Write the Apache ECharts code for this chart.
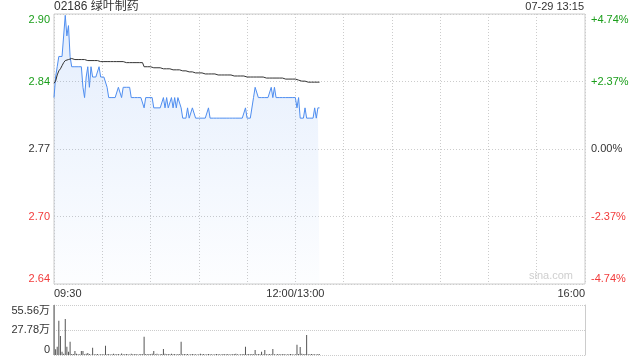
<!DOCTYPE html>
<html>
<head>
<meta charset="utf-8">
<script src="https://cdn.jsdelivr.net/npm/echarts@6/dist/echarts.min.js"></script>
<style>
html,body{margin:0;padding:0;background:#fff;}
#c{width:640px;height:360px;}
</style>
</head>
<body>
<div id="c"></div>
<script>
const title = '02186 绿叶制药';
const stamp = '07-29 13:15';
const prevClose = 2.77;
const pctRange = 4.74;
const priceTickLabels = ['2.64', '2.70', '2.77', '2.84', '2.90'];
const pctTickLabels = ['-4.74%', '-2.37%', '0.00%', '+2.37%', '+4.74%'];
const timeTickLabels = {0: '09:30', 150: '12:00/13:00', 330: '16:00'};
const volTickLabels = ['0', '27.78万', '55.56万'];
const volMax = 55.56;
const totalMinutes = 330;

// price per minute from 09:30 (index 0) to 13:15 (index 165)
const price = [
  2.82, 2.84, 2.85, 2.86, 2.86, 2.86, 2.86, 2.90, 2.88, 2.89,
  2.86, 2.85, 2.85, 2.85, 2.85, 2.85, 2.85, 2.85, 2.83, 2.82,
  2.84, 2.85, 2.83, 2.85, 2.84, 2.84, 2.84, 2.84, 2.85, 2.84,
  2.84, 2.84, 2.84, 2.83, 2.82, 2.82, 2.82, 2.82, 2.82, 2.82,
  2.83, 2.83, 2.82, 2.83, 2.83, 2.83, 2.83, 2.83, 2.82, 2.82,
  2.82, 2.82, 2.82, 2.82, 2.82, 2.82, 2.81, 2.82, 2.82, 2.82,
  2.82, 2.82, 2.81, 2.81, 2.81, 2.81, 2.81, 2.81, 2.82, 2.81,
  2.82, 2.81, 2.81, 2.82, 2.81, 2.82, 2.81, 2.82, 2.82, 2.81,
  2.80, 2.80, 2.80, 2.81, 2.80, 2.80, 2.81, 2.81, 2.80, 2.80,
  2.80, 2.80, 2.80, 2.80, 2.80, 2.80, 2.81, 2.80, 2.80, 2.80,
  2.80, 2.80, 2.80, 2.80, 2.80, 2.80, 2.80, 2.80, 2.80, 2.80,
  2.80, 2.80, 2.80, 2.80, 2.80, 2.80, 2.80, 2.80, 2.80, 2.81,
  2.80, 2.80, 2.80, 2.80, 2.82, 2.83, 2.83, 2.82, 2.82, 2.82,
  2.82, 2.82, 2.82, 2.82, 2.82, 2.83, 2.82, 2.83, 2.82, 2.82,
  2.82, 2.82, 2.82, 2.82, 2.82, 2.82, 2.82, 2.82, 2.82, 2.82,
  2.82, 2.81, 2.82, 2.80, 2.80, 2.80, 2.81, 2.80, 2.80, 2.80,
  2.80, 2.80, 2.81, 2.80, 2.81, 2.81
];

// average price per minute
const avgPrice = [
  2.834, 2.836, 2.842, 2.846, 2.848, 2.851, 2.854, 2.856, 2.857, 2.857,
  2.858, 2.858, 2.858, 2.857, 2.857, 2.857, 2.857, 2.857, 2.857, 2.857,
  2.856, 2.856, 2.856, 2.856, 2.856, 2.856, 2.856, 2.856, 2.855, 2.855,
  2.855, 2.855, 2.855, 2.855, 2.855, 2.855, 2.855, 2.855, 2.855, 2.855,
  2.855, 2.855, 2.855, 2.855, 2.854, 2.854, 2.854, 2.854, 2.854, 2.854,
  2.854, 2.854, 2.854, 2.854, 2.854, 2.854, 2.850, 2.850, 2.850, 2.850,
  2.850, 2.849, 2.849, 2.849, 2.849, 2.849, 2.849, 2.848, 2.848, 2.848,
  2.848, 2.848, 2.848, 2.848, 2.847, 2.847, 2.847, 2.847, 2.847, 2.846,
  2.846, 2.846, 2.846, 2.845, 2.845, 2.845, 2.845, 2.845, 2.844, 2.844,
  2.844, 2.844, 2.844, 2.843, 2.843, 2.843, 2.843, 2.843, 2.843, 2.843,
  2.843, 2.842, 2.842, 2.842, 2.842, 2.842, 2.842, 2.842, 2.842, 2.842,
  2.842, 2.841, 2.841, 2.841, 2.841, 2.841, 2.841, 2.841, 2.841, 2.840,
  2.840, 2.840, 2.840, 2.840, 2.840, 2.840, 2.840, 2.840, 2.840, 2.840,
  2.840, 2.839, 2.839, 2.839, 2.839, 2.839, 2.839, 2.839, 2.839, 2.839,
  2.839, 2.839, 2.839, 2.838, 2.838, 2.838, 2.838, 2.838, 2.838, 2.838,
  2.838, 2.837, 2.837, 2.836, 2.836, 2.836, 2.836, 2.835, 2.835, 2.835,
  2.835, 2.835, 2.835, 2.835, 2.835, 2.835
];

// volume per minute, in 万 shares
const volume = [
  55.56, 6.3, 9.3, 38, 21, 3.7, 1.5, 40, 9.3, 3.7,
  14.8, 1.2, 1.0, 4.4, 1.5, 0.8, 0.8, 4.4, 4.4, 0.8,
  1.5, 2.2, 1.0, 0.6, 8.1, 0.9, 0.7, 1.1, 0.6, 0.8,
  0.9, 0.7, 10.4, 0.8, 1.2, 0.6, 0.9, 1.4, 0.7, 0.8,
  1.2, 0.6, 1.6, 0.8, 0.7, 1.1, 0.9, 0.6, 1.3, 0.8,
  0.7, 1.0, 0.6, 0.9, 1.2, 0.8, 20.4, 1.0, 0.8, 1.1,
  0.9, 1.4, 4.4, 0.7, 1.5, 0.6, 0.8, 1.2, 6.7, 1.5,
  0.8, 1.1, 0.7, 1.3, 0.9, 1.0, 0.6, 1.2, 0.8, 14.8,
  0.7, 1.0, 0.8, 1.2, 0.6, 0.9, 1.1, 0.7, 0.8, 0.6,
  0.9, 1.5, 0.7, 1.0, 0.6, 0.8, 1.1, 0.7, 0.9, 0.6,
  0.8, 1.0, 0.7, 0.9, 0.6, 1.1, 0.8, 0.7, 1.0, 0.6,
  0.9, 0.7, 1.0, 1.5, 0.8, 0.6, 0.9, 0.7, 1.1, 9.3,
  0.8, 1.0, 0.7, 1.2, 0.9, 5.6, 0.8, 1.0, 0.7, 3.7,
  0.9, 5.6, 0.8, 0.7, 1.0, 0.9, 6.7, 0.8, 0.6, 1.0,
  0.7, 0.9, 0.8, 1.1, 0.6, 0.9, 0.7, 1.0, 0.8, 0.6,
  0.9, 11.5, 1.0, 8.9, 1.5, 0.8, 1.0, 22.2, 0.9, 0.7,
  1.1, 0.8, 0.9, 0.6, 1.0, 0.8
];

const GREEN = '#1a9e1a';
const RED = '#f23b3b';
const DARK = '#333';
const FONT = '"Liberation Sans", Arial, "Noto Sans CJK SC", sans-serif';
const labelColor = (i) => i > 2 ? GREEN : (i < 2 ? RED : DARK);

const priceData = price.map((v, i) => [i, v]);
const avgData = avgPrice.map((v, i) => [i, v]);
const volData = volume.map((v, i) => [i, v]);

const chart = echarts.init(document.getElementById('c'), null, {renderer: 'canvas'});
chart.setOption({
  animation: false,
  backgroundColor: '#fff',
  textStyle: {fontFamily: FONT},
  title: [
    {text: title, left: 54, top: 1, padding: 0,
     textStyle: {fontSize: 12, fontWeight: 'normal', color: '#333', fontFamily: FONT}},
    {text: stamp, right: 56, top: 1, padding: 0,
     textStyle: {fontSize: 11, fontWeight: 'normal', color: '#333', fontFamily: FONT}}
  ],
  graphic: [
    {type: 'text', right: 67, top: 270,
     style: {text: 'sina.com', fill: '#cfcfcf', font: '11px ' + FONT}}
  ],
  grid: [
    {left: 54, right: 55, top: 14, height: 270, show: true, borderColor: '#ccc', borderWidth: 1, backgroundColor: 'transparent'},
    {left: 54, right: 55, top: 305, height: 50, show: false}
  ],
  xAxis: [
    {type: 'value', gridIndex: 0, min: 0, max: totalMinutes, interval: 30,
     axisLine: {show: false}, axisTick: {show: false},
     splitLine: {show: true, lineStyle: {color: '#ccc', type: [1, 2], width: 1}},
     axisLabel: {show: true, margin: 4, fontSize: 11, color: '#333', fontFamily: FONT,
       showMinLabel: true, showMaxLabel: true,
       alignMinLabel: 'left', alignMaxLabel: 'right',
       formatter: (v) => timeTickLabels[Math.round(v)] || ''}},
    {type: 'value', gridIndex: 1, min: 0, max: totalMinutes, show: false}
  ],
  yAxis: [
    {type: 'value', gridIndex: 0, min: -pctRange, max: pctRange, interval: pctRange / 2,
     position: 'left',
     axisLine: {show: false}, axisTick: {show: false},
     splitLine: {show: true, lineStyle: {color: '#ccc', type: [1, 2], width: 1}},
     axisLabel: {margin: 4, fontSize: 11, fontFamily: FONT,
       verticalAlignMinLabel: 'bottom', verticalAlignMaxLabel: 'top',
       formatter: (v, i) => priceTickLabels[Math.round(v / (pctRange / 2)) + 2],
       color: (v, i) => labelColor(Math.round(Number(v) / (pctRange / 2)) + 2)}},
    {type: 'value', gridIndex: 0, min: -pctRange, max: pctRange, interval: pctRange / 2,
     position: 'right',
     axisLine: {show: false}, axisTick: {show: false}, splitLine: {show: false},
     axisLabel: {margin: 6, fontSize: 11, fontFamily: FONT,
       verticalAlignMinLabel: 'bottom', verticalAlignMaxLabel: 'top',
       formatter: (v, i) => pctTickLabels[Math.round(v / (pctRange / 2)) + 2],
       color: (v, i) => labelColor(Math.round(Number(v) / (pctRange / 2)) + 2)}},
    {type: 'value', gridIndex: 0, show: false,
     min: prevClose * (1 - pctRange / 100), max: prevClose * (1 + pctRange / 100)},
    {type: 'value', gridIndex: 1, min: 0, max: volMax, interval: volMax / 2,
     position: 'left',
     axisLine: {show: true, lineStyle: {color: '#ccc'}}, axisTick: {show: false},
     splitLine: {show: true, lineStyle: {color: '#ccc', type: [1, 1], width: 1}},
     axisLabel: {margin: 4, fontSize: 11, color: '#333', fontFamily: FONT,
       verticalAlignMinLabel: 'bottom', verticalAlignMaxLabel: 'top',
       formatter: (v) => volTickLabels[Math.round(v / (volMax / 2))]}},
    {type: 'value', gridIndex: 1, min: 0, max: volMax, position: 'right',
     axisLine: {show: true, lineStyle: {color: '#ccc'}}, axisTick: {show: false},
     axisLabel: {show: false}, splitLine: {show: false}}
  ],
  series: [
    {type: 'line', xAxisIndex: 0, yAxisIndex: 2, data: priceData,
     showSymbol: false, symbol: 'none',
     lineStyle: {color: '#4f8ef0', width: 1},
     areaStyle: {color: new echarts.graphic.LinearGradient(0, 0, 0, 1, [
       {offset: 0, color: 'rgba(79,142,240,0.22)'},
       {offset: 1, color: 'rgba(79,142,240,0.02)'}
     ]), origin: 'start'}},
    {type: 'line', xAxisIndex: 0, yAxisIndex: 2, data: avgData,
     showSymbol: false, symbol: 'none',
     lineStyle: {color: '#333', width: 1}},
    {type: 'bar', xAxisIndex: 1, yAxisIndex: 3, data: volData,
     barWidth: 1, itemStyle: {color: '#555'}}
  ]
});
</script>
</body>
</html>
